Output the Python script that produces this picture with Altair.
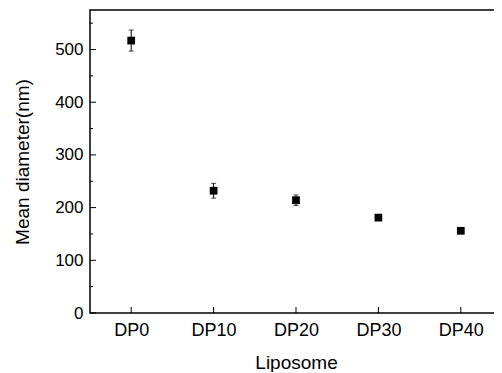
import altair as alt
import pandas as pd

categories = ["DP0", "DP10", "DP20", "DP30", "DP40"]
mean_diameter = [517, 232, 214, 181, 156]
error = [20, 14, 10, 5, 3]
y_major_ticks = [0, 100, 200, 300, 400, 500]
y_minor_ticks = [50, 150, 250, 350, 450, 550]

df = pd.DataFrame({
    "Liposome": categories,
    "mean": mean_diameter,
    "lo": [m - e for m, e in zip(mean_diameter, error)],
    "hi": [m + e for m, e in zip(mean_diameter, error)],
})
df_major = pd.DataFrame({"v": y_major_ticks})
df_minor = pd.DataFrame({"v": y_minor_ticks})

FONT = "Liberation Sans"
H = 303

xscale = alt.Scale(type="point", padding=0.5, domain=categories)
yscale = alt.Scale(domain=[0, 575], nice=False, zero=False)

x_enc = alt.X("Liposome:N", scale=xscale, sort=categories,
              axis=alt.Axis(title="Liposome", labelAngle=0, labelAlign="center",
                            labelBaseline="top", ticks=False, tickSize=0,
                            domain=False, grid=False, labelPadding=8, titlePadding=14,
                            labelFontSize=18, titleFontSize=19, labelColor="black",
                            titleColor="black", titleFontWeight="normal",
                            labelFont=FONT, titleFont=FONT))
y_enc = alt.Y("mean:Q", scale=yscale,
              axis=alt.Axis(title="Mean diameter(nm)", values=y_major_ticks, ticks=False,
                            tickSize=0, domain=False, grid=False, labelPadding=7,
                            titlePadding=22, labelFontSize=17, titleFontSize=19,
                            labelColor="black", titleColor="black",
                            titleFontWeight="normal", labelFont=FONT, titleFont=FONT))

base = alt.Chart(df)

points = base.mark_square(size=60, color="black", opacity=1).encode(x=x_enc, y=y_enc)
bars = base.mark_rule(color="black", strokeWidth=1).encode(
    x=alt.X("Liposome:N", scale=xscale, sort=categories),
    y=alt.Y("lo:Q", scale=yscale), y2="hi:Q")
cap_lo = base.mark_tick(color="black", orient="horizontal", size=5, thickness=1).encode(
    x=alt.X("Liposome:N", scale=xscale, sort=categories),
    y=alt.Y("lo:Q", scale=yscale))
cap_hi = base.mark_tick(color="black", orient="horizontal", size=5, thickness=1).encode(
    x=alt.X("Liposome:N", scale=xscale, sort=categories),
    y=alt.Y("hi:Q", scale=yscale))

xticks = base.mark_rule(color="black", strokeWidth=1).encode(
    x=alt.X("Liposome:N", scale=xscale, sort=categories),
    y=alt.value(H), y2=alt.value(H - 6))
ymajor = alt.Chart(df_major).mark_rule(color="black", strokeWidth=1).encode(
    y=alt.Y("v:Q", scale=yscale), x=alt.value(0), x2=alt.value(6))
yminor = alt.Chart(df_minor).mark_rule(color="black", strokeWidth=1).encode(
    y=alt.Y("v:Q", scale=yscale), x=alt.value(0), x2=alt.value(3))

chart = alt.layer(bars, cap_lo, cap_hi, points, xticks, ymajor, yminor).properties(
    width=412, height=H,
    background="white",
    autosize=alt.AutoSizeParams(type="none"),
    padding={"left": 82, "top": 2, "right": -8, "bottom": 59},
).configure_view(stroke="black", strokeWidth=1.5)

chart.save("out.html", embed_options={"renderer": "svg", "actions": False})
